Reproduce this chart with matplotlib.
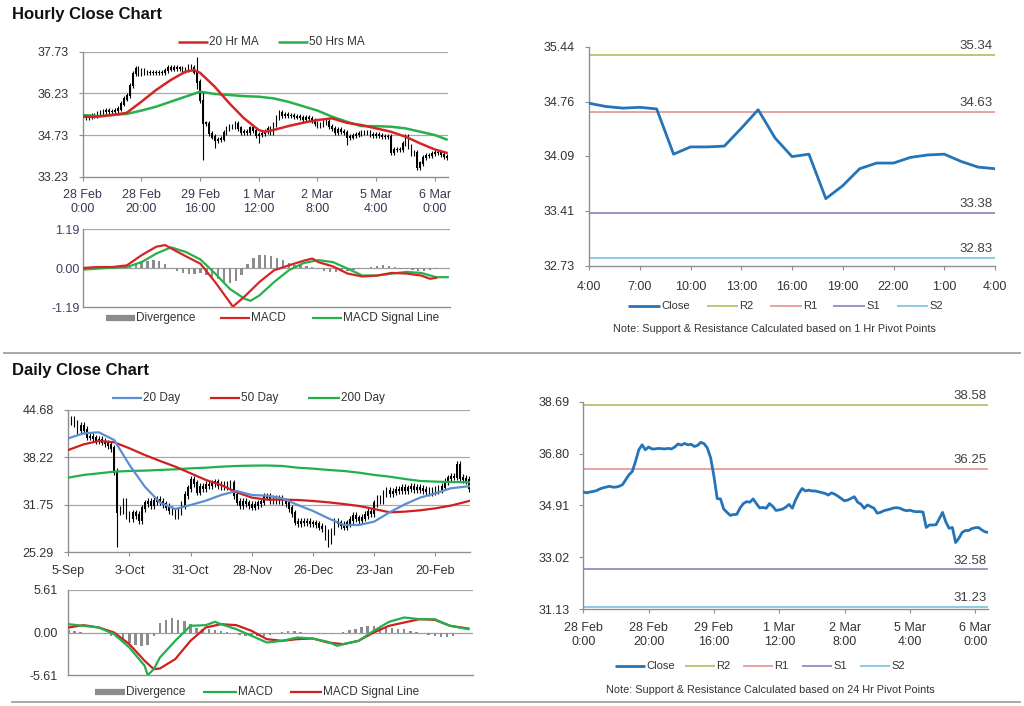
import matplotlib
matplotlib.use('Agg')
import matplotlib.pyplot as plt
from matplotlib.lines import Line2D
import numpy as np

plt.rcParams['font.family'] = ['Liberation Sans', 'DejaVu Sans']

# ---------------- data: hourly ----------------
hr_close = [35.40, 35.37, 35.40, 35.42, 35.45, 35.51, 35.55, 35.58, 35.61, 35.58,
            35.58, 35.61, 35.67, 35.85, 36.03, 36.15, 36.52, 36.94, 37.12, 36.94,
            37.04, 36.97, 36.97, 36.99, 36.98, 36.97, 36.99, 36.97, 37.04, 37.15,
            37.11, 37.17, 37.12, 37.14, 37.06, 37.10, 37.21, 37.16, 37.00, 36.64,
            35.97, 35.16, 35.15, 34.78, 34.66, 34.55, 34.58, 34.59, 34.82, 34.98,
            35.05, 35.03, 35.15, 34.98, 34.82, 34.84, 34.81, 34.98, 34.88, 34.73,
            34.75, 34.78, 34.85, 34.95, 34.81, 35.11, 35.35, 35.53, 35.44, 35.47,
            35.44, 35.44, 35.41, 35.38, 35.35, 35.29, 35.37, 35.32, 35.25, 35.16,
            35.08, 35.11, 35.17, 35.23, 35.03, 34.96, 34.81, 34.93, 34.87, 34.81,
            34.63, 34.66, 34.72, 34.75, 34.78, 34.82, 34.83, 34.81, 34.75, 34.72,
            34.74, 34.70, 34.68, 34.69, 34.67, 34.11, 34.20, 34.20, 34.21, 34.43,
            34.66, 34.31, 34.08, 34.11, 33.56, 33.72, 33.93, 34.00, 34.00, 34.07,
            34.10, 34.11, 34.02, 33.95, 33.93]
hr_spike_bar = [39, 41, 45, 60, 90, 114]
hr_spike_lo = [36.40, 33.83, 34.25, 34.43, 34.37, 33.53]
hr_spike_hi = [37.55, 36.29, 34.70, 34.85, 34.75, 34.00]

hr_ma20_x = [0, 5, 10, 15, 20, 25, 30, 35, 38, 40, 45, 50, 55, 60, 62, 65, 70, 75,
             80, 85, 90, 95, 100, 105, 110, 115, 120, 124]
hr_ma20 = [35.39, 35.39, 35.45, 35.53, 35.93, 36.35, 36.71, 37.01, 37.07, 36.97,
           36.47, 35.87, 35.33, 34.91, 34.85, 34.91, 35.05, 35.17, 35.27, 35.33,
           35.17, 35.09, 34.97, 34.85, 34.67, 34.43, 34.21, 34.09]
hr_ma50_x = [0, 5, 10, 15, 20, 25, 30, 35, 40, 45, 50, 55, 60, 65, 70, 75, 80, 85,
             90, 95, 100, 105, 110, 115, 120, 124]
hr_ma50 = [35.45, 35.41, 35.45, 35.49, 35.61, 35.75, 35.93, 36.11, 36.29, 36.21,
           36.17, 36.13, 36.11, 36.05, 35.93, 35.77, 35.61, 35.39, 35.21, 35.05,
           35.05, 35.03, 34.97, 34.85, 34.73, 34.57]

hr_macd_x = [0, 5, 10, 15, 20, 25, 28, 30, 35, 40, 45, 50, 51, 55, 60, 65, 70, 75,
             78, 80, 85, 90, 95, 100, 105, 110, 115, 118, 120]
hr_macd = [0.00, 0.03, 0.03, 0.08, 0.39, 0.65, 0.70, 0.60, 0.36, 0.13, -0.43, -1.05,
           -1.18, -0.87, -0.43, -0.07, 0.08, 0.22, 0.29, 0.18, 0.05, -0.17, -0.26,
           -0.23, -0.15, -0.17, -0.23, -0.33, -0.30]
hr_sig_x = [0, 10, 15, 20, 25, 30, 35, 40, 45, 50, 55, 57, 60, 65, 70, 75, 80, 85,
            90, 95, 100, 105, 110, 115, 120, 124]
hr_sig = [-0.05, 0.01, 0.03, 0.18, 0.44, 0.63, 0.49, 0.26, -0.17, -0.64, -0.94, -1.00,
          -0.84, -0.43, -0.07, 0.15, 0.24, 0.18, -0.02, -0.23, -0.23, -0.17, -0.12,
          -0.15, -0.28, -0.28]
hr_div = [0.03, 0.03, 0.02, 0.02, 0.01, 0.01, 0.02, 0.04, 0.08, 0.14,
          0.20, 0.22, 0.24, 0.22, 0.12, -0.03, -0.10, -0.14, -0.17, -0.17,
          -0.15, -0.20, -0.27, -0.35, -0.42, -0.47, -0.40, -0.20, 0.12, 0.32,
          0.40, 0.40, 0.36, 0.30, 0.24, 0.16, 0.10, 0.08, 0.06, 0.04,
          -0.04, -0.08, -0.12, -0.13, -0.12, -0.10, -0.06, -0.03, 0.00, 0.04,
          0.06, 0.08, 0.06, 0.02, -0.02, -0.04, -0.06, -0.10, -0.10, -0.06,
          -0.02, 0.00, 0.00]

hr_ticklabels = ['28 Feb\n0:00', '28 Feb\n20:00', '29 Feb\n16:00', '1 Mar\n12:00',
                 '2 Mar\n8:00', '5 Mar\n4:00', '6 Mar\n0:00']
hr_yticks = [33.23, 34.73, 36.23, 37.73]
hr_macd_yticks = [-1.19, 0.00, 1.19]

pivot_hours = ['4:00', '7:00', '10:00', '13:00', '16:00', '19:00', '22:00', '1:00', '4:00']
pivot1_yticks = [32.73, 33.41, 34.09, 34.76, 35.44]
pivot1_levels = [35.34, 34.63, 33.38, 32.83]   # R2, R1, S1, S2

# ---------------- data: daily ----------------
dy_close = [43.09, 43.32, 42.86, 41.96, 42.55, 41.96, 41.05, 41.05, 40.82, 40.59,
            40.59, 40.37, 40.14, 39.91, 39.46, 36.28, 30.83, 31.06, 32.19, 30.38,
            29.92, 30.60, 30.38, 29.69, 31.29, 31.97, 32.19, 31.74, 32.28, 32.42,
            32.19, 31.83, 31.51, 31.06, 30.83, 30.38, 30.92, 31.74, 33.10, 34.01,
            35.14, 34.69, 33.56, 34.24, 34.01, 34.47, 34.47, 34.69, 34.83, 34.47,
            34.24, 34.56, 34.24, 34.69, 33.10, 32.19, 31.74, 32.19, 31.97, 31.74,
            31.51, 31.74, 31.97, 32.19, 32.87, 32.87, 32.42, 32.55, 32.42, 32.65,
            32.19, 31.97, 31.29, 30.60, 29.47, 29.24, 29.47, 29.38, 29.47, 29.24,
            29.24, 29.10, 28.79, 28.56, 27.43, 26.97, 28.11, 29.47, 29.24, 29.01,
            28.79, 29.24, 29.69, 30.28, 29.92, 29.69, 30.01, 30.38, 30.83, 30.60,
            31.97, 32.65, 32.42, 33.33, 33.65, 33.33, 33.56, 33.78, 33.78, 34.10,
            33.78, 34.01, 34.24, 33.92, 34.10, 33.92, 33.78, 33.65, 33.47, 33.65,
            33.78, 33.92, 34.24, 34.92, 35.37, 35.60, 35.60, 37.19, 35.46, 35.28,
            35.14, 34.01]
dy_spike_bar = [0, 16, 85, 127]
dy_spike_lo = [42.50, 26.06, 26.06, 35.40]
dy_spike_hi = [43.60, 36.28, 28.50, 37.41]

dy_ma_x = [0, 5, 10, 15, 20, 25, 30, 35, 40, 45, 50, 55, 60, 65, 70, 75, 80, 85,
           90, 95, 100, 105, 110, 115, 120, 125, 131]
dy_ma20 = [40.82, 41.50, 41.64, 40.59, 37.19, 34.24, 32.06, 31.19, 31.74, 32.33,
           33.10, 33.65, 33.10, 33.00, 32.65, 31.74, 30.92, 29.92, 29.01, 29.01,
           29.47, 30.74, 31.83, 32.74, 33.33, 34.01, 34.30]
dy_ma50 = [39.23, 40.00, 40.46, 40.28, 39.46, 38.55, 37.73, 36.96, 36.05, 35.14,
           34.46, 33.47, 32.74, 32.47, 32.46, 32.42, 32.28, 32.10, 31.87, 31.60,
           31.19, 30.74, 30.83, 31.01, 31.28, 31.65, 32.28]
dy_ma200 = [35.46, 35.83, 36.05, 36.28, 36.37, 36.42, 36.51, 36.60, 36.73, 36.82,
            36.96, 37.05, 37.10, 37.12, 37.05, 36.82, 36.69, 36.51, 36.37, 36.14,
            35.83, 35.60, 35.28, 35.01, 34.92, 34.87, 34.83]

dy_macd_x = [0, 5, 10, 15, 20, 25, 26, 28, 30, 35, 40, 45, 48, 50, 55, 60, 65, 70,
             75, 80, 85, 88, 90, 95, 100, 105, 110, 115, 120, 125, 131]
dy_macd = [1.10, 0.88, 0.66, -0.22, -1.98, -4.40, -5.63, -4.84, -3.30, -1.10,
           0.88, 0.97, 1.41, 1.10, 0.44, -0.44, -1.32, -1.10, -0.66, -0.79,
           -1.23, -1.76, -1.54, -1.10, 0.22, 1.41, 1.98, 1.76, 1.76, 0.88, 0.44]
dy_sig_x = [0, 5, 10, 15, 20, 25, 28, 30, 35, 40, 45, 50, 55, 60, 65, 70, 75, 80,
            85, 90, 95, 100, 105, 110, 115, 120, 125, 131]
dy_sig = [0.66, 0.97, 0.66, 0.00, -1.54, -3.74, -4.84, -4.75, -3.52, -1.10,
          0.66, 1.10, 0.97, 0.22, -0.88, -1.10, -0.88, -0.79, -1.32, -1.54,
          -1.10, 0.00, 0.88, 1.32, 1.76, 1.67, 0.88, 0.53]
dy_div = [0.30, 0.20, 0.10, 0.00, -0.10, -0.10, -0.20, -0.40, -0.70, -1.00,
          -1.40, -1.70, -1.80, -1.60, -0.50, 1.20, 1.70, 1.85, 1.70, 1.50,
          1.10, 0.60, 0.45, 0.40, 0.30, 0.20, 0.10, -0.10, -0.30, -0.40,
          -0.45, -0.50, -0.40, -0.30, -0.10, 0.10, 0.20, 0.20, 0.10, 0.00,
          -0.10, -0.20, -0.25, -0.20, -0.10, 0.10, 0.30, 0.50, 0.70, 0.85,
          0.85, 0.75, 0.65, 0.60, 0.50, 0.40, 0.25, 0.10, -0.10, -0.30,
          -0.45, -0.55, -0.55, -0.45, -0.25, -0.05]

dy_ticklabels = ['5-Sep', '3-Oct', '31-Oct', '28-Nov', '26-Dec', '23-Jan', '20-Feb']
dy_yticks = [25.29, 31.75, 38.22, 44.68]
dy_macd_yticks = [-5.61, 0.00, 5.61]

pivot24_yticks = [31.13, 33.02, 34.91, 36.80, 38.69]
pivot24_levels = [38.58, 36.25, 32.58, 31.23]  # R2, R1, S1, S2

level_colors = ['#b3c97a', '#e9a3a0', '#a48fc4', '#8ccbe2']
close_color = '#2574b8'

# ---------------- layout helpers ----------------
W, H = 1024, 706
fig = plt.figure(figsize=(W / 100, H / 100), dpi=100)
AXC = '#8f8f8f'
TXT = '#333333'


def box(l, t, r, b):
    return [l / W, 1 - b / H, (r - l) / W, (b - t) / H]


def style(ax, ypad=7, xpad=6):
    for s in ['top', 'right']:
        ax.spines[s].set_visible(False)
    for s in ['left', 'bottom']:
        ax.spines[s].set_color(AXC)
        ax.spines[s].set_linewidth(1.0)
    ax.tick_params(axis='both', colors=AXC, labelcolor=TXT, labelsize=9,
                   length=3, width=0.8)
    ax.tick_params(axis='y', pad=ypad)
    ax.tick_params(axis='x', pad=xpad)


def hgrid(ax, vals):
    for v in vals:
        ax.axhline(v, color='#a8a8a8', lw=0.9, zorder=0)


def candles(ax, close, wick, sp_bar, sp_lo, sp_hi):
    close = np.array(close)
    x = np.arange(len(close))
    opn = np.r_[close[0], close[:-1]]
    lo = np.minimum(opn, close) - wick
    hi = np.maximum(opn, close) + wick
    for i, l, h in zip(sp_bar, sp_lo, sp_hi):
        lo[i] = min(lo[i], l)
        hi[i] = max(hi[i], h)
    ax.vlines(x, lo, hi, color='black', lw=0.8, zorder=2)
    ax.bar(x, np.abs(close - opn) + wick * 0.5, bottom=np.minimum(opn, close) - wick * 0.25,
           width=0.5, color='black', zorder=2)


def legend_row(y, items, fs=8.5):
    for x0, x1, color, lw, label in items:
        fig.add_artist(Line2D([x0 / W, x1 / W], [1 - y / H] * 2, color=color, lw=lw,
                              solid_capstyle='butt'))
        fig.text((x1 + 1) / W, 1 - y / H, label, fontsize=fs, color=TXT,
                 va='center', ha='left')


def level_labels(ax, levels, fs=9.5):
    for v, c in zip(levels, level_colors):
        ax.axhline(v, color=c, lw=1.4, zorder=1)
        ax.annotate('%.2f' % v, xy=(0.995, v), xycoords=('axes fraction', 'data'),
                    xytext=(0, 2), textcoords='offset points', ha='right', va='bottom',
                    fontsize=fs, color='#404040')


# ---------------- Hourly price ----------------
fig.text(12 / W, 1 - 15 / H, 'Hourly Close Chart', fontsize=12, fontweight='bold',
         va='center', ha='left', color='#111111')

ax1 = fig.add_axes(box(82.7, 51.7, 448.3, 176.7))
style(ax1)
hgrid(ax1, hr_yticks[1:])
candles(ax1, hr_close, 0.09, hr_spike_bar, hr_spike_lo, hr_spike_hi)
ax1.plot(hr_ma50_x, hr_ma50, color='#27b04c', lw=1.8, zorder=3)
ax1.plot(hr_ma20_x, hr_ma20, color='#d42626', lw=1.8, zorder=4)
ax1.set_xlim(0, 124.6)
ax1.set_ylim(hr_yticks[0], hr_yticks[-1])
ax1.set_yticks(hr_yticks, ['%.2f' % v for v in hr_yticks])
ax1.set_xticks(np.arange(0, 121, 20), hr_ticklabels)
for t in ax1.get_xticklabels():
    t.set_color('#3e3450')
legend_row(41.7, [(178, 208, '#d42626', 1.8, '20 Hr MA'),
                  (278, 308, '#27b04c', 1.8, '50 Hrs MA')])

# ---------------- Hourly MACD ----------------
ax2 = fig.add_axes(box(82.7, 229, 449.5, 307))
style(ax2, ypad=2)
hgrid(ax2, [hr_macd_yticks[2]])
ax2.axhline(0, color='#a0a0a0', lw=0.9, zorder=0)
ax2.bar(np.arange(0, 125, 2), hr_div, width=0.8, color='#8c8c8c', zorder=1)
ax2.plot(hr_sig_x, hr_sig, color='#27b04c', lw=1.6, zorder=3)
ax2.plot(hr_macd_x, hr_macd, color='#d42626', lw=1.6, zorder=4)
ax2.set_xlim(0, 124.6)
ax2.set_ylim(hr_macd_yticks[0], hr_macd_yticks[-1])
ax2.set_yticks(hr_macd_yticks, ['%.2f' % v for v in hr_macd_yticks])
ax2.set_xticks([])
ax2.tick_params(axis='y', length=0)
for t in ax2.get_yticklabels():
    t.set_color('#4a3a66')
legend_row(318.3, [(106, 135, '#8c8c8c', 4.5, 'Divergence'),
                   (220, 250, '#d42626', 1.6, 'MACD'),
                   (312, 342, '#27b04c', 1.6, 'MACD Signal Line')])

# ---------------- Hourly pivot (last 24h) ----------------
ax3 = fig.add_axes(box(589, 46.7, 995, 265.7))
style(ax3, xpad=8)
last24 = hr_close[-25:]
level_labels(ax3, pivot1_levels)
ax3.plot(np.arange(len(last24)), last24, color=close_color, lw=2.0, zorder=3)
ax3.set_xlim(0, 24)
ax3.set_ylim(pivot1_yticks[0], pivot1_yticks[-1])
ax3.set_yticks(pivot1_yticks, ['%.2f' % v for v in pivot1_yticks])
ax3.set_xticks(np.arange(0, 25, 3), pivot_hours)
legend_row(306, [(628, 660, close_color, 2.0, 'Close'),
                 (707, 738, level_colors[0], 1.4, 'R2'),
                 (770, 802, level_colors[1], 1.4, 'R1'),
                 (833, 865, level_colors[2], 1.4, 'S1'),
                 (897, 928, level_colors[3], 1.4, 'S2')], fs=8)
fig.text(774 / W, 1 - 329 / H,
         'Note: Support & Resistance Calculated based on 1 Hr Pivot Points',
         fontsize=7.8, color=TXT, ha='center', va='center')

# separators
fig.add_artist(Line2D([4 / W, 1020 / W], [1 - 353 / H] * 2, color='#a0a0a0', lw=1.3))
fig.add_artist(Line2D([12 / W, 1020 / W], [1 - 702 / H] * 2, color='#a0a0a0', lw=1.3))

# ---------------- Daily price ----------------
fig.text(12 / W, 1 - 370 / H, 'Daily Close Chart', fontsize=12, fontweight='bold',
         va='center', ha='left', color='#111111')

ax4 = fig.add_axes(box(68.3, 410, 470, 552.3))
style(ax4, ypad=7.5, xpad=6.5)
hgrid(ax4, dy_yticks[1:])
candles(ax4, dy_close, 0.5, dy_spike_bar, dy_spike_lo, dy_spike_hi)
ax4.plot(dy_ma_x, dy_ma200, color='#22b04e', lw=1.6, zorder=3)
ax4.plot(dy_ma_x, dy_ma50, color='#cf2020', lw=1.6, zorder=4)
ax4.plot(dy_ma_x, dy_ma20, color='#5b8fd2', lw=1.6, zorder=5)
ax4.set_xlim(0, 131.3)
ax4.set_ylim(dy_yticks[0], dy_yticks[-1])
ax4.set_yticks(dy_yticks, ['%.2f' % v for v in dy_yticks])
ax4.set_xticks(np.arange(0, 121, 20), dy_ticklabels)
legend_row(397.7, [(112, 142, '#5b8fd2', 1.6, '20 Day'),
                   (210, 240, '#cf2020', 1.6, '50 Day'),
                   (308, 340, '#22b04e', 1.6, '200 Day')])

# ---------------- Daily MACD ----------------
ax5 = fig.add_axes(box(68.3, 590, 473.3, 675))
style(ax5, ypad=7.5)
hgrid(ax5, [dy_macd_yticks[2]])
ax5.axhline(0, color='#a0a0a0', lw=0.9, zorder=0)
ax5.bar(np.arange(0, 131, 2), dy_div, width=0.8, color='#8c8c8c', zorder=1)
ax5.plot(dy_sig_x, dy_sig, color='#cf2020', lw=1.6, zorder=3)
ax5.plot(dy_macd_x, dy_macd, color='#22b04e', lw=1.6, zorder=4)
ax5.set_xlim(0, 132.6)
ax5.set_ylim(dy_macd_yticks[0], dy_macd_yticks[-1])
ax5.set_yticks(dy_macd_yticks, ['%.2f' % v for v in dy_macd_yticks])
ax5.set_xticks([])
ax5.tick_params(axis='y', length=0)
legend_row(691.7, [(95, 125, '#8c8c8c', 4.5, 'Divergence'),
                   (203, 237, '#22b04e', 1.6, 'MACD'),
                   (290, 322, '#cf2020', 1.6, 'MACD Signal Line')])

# ---------------- 24h pivot (hourly closes) ----------------
ax6 = fig.add_axes(box(583.3, 401.7, 988.3, 609.3))
style(ax6, xpad=6.5)
level_labels(ax6, pivot24_levels)
ax6.plot(np.arange(len(hr_close)), hr_close, color=close_color, lw=2.0, zorder=3)
ax6.set_xlim(0, 124)
ax6.set_ylim(pivot24_yticks[0], pivot24_yticks[-1])
ax6.set_yticks(pivot24_yticks, ['%.2f' % v for v in pivot24_yticks])
ax6.set_xticks(np.arange(0, 121, 20), hr_ticklabels)
legend_row(666, [(615, 645, close_color, 2.0, 'Close'),
                 (685, 715, level_colors[0], 1.4, 'R2'),
                 (743, 773, level_colors[1], 1.4, 'R1'),
                 (802, 832, level_colors[2], 1.4, 'S1'),
                 (860, 890, level_colors[3], 1.4, 'S2')], fs=8)
fig.text(770 / W, 1 - 690 / H,
         'Note: Support & Resistance Calculated based on 24 Hr Pivot Points',
         fontsize=7.8, color=TXT, ha='center', va='center')

fig.savefig('out.png', dpi=100)
